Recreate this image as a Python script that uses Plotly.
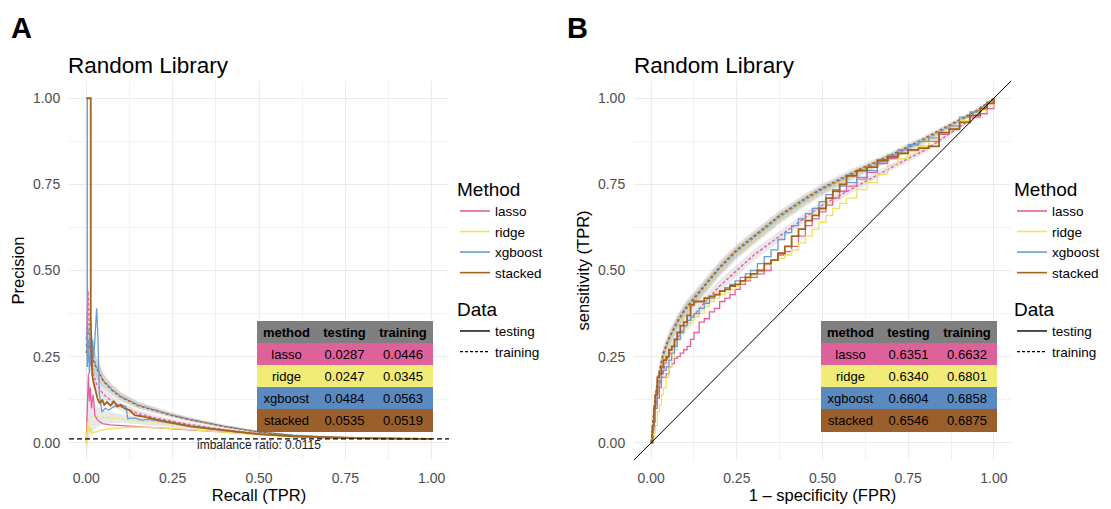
import plotly.graph_objects as go

# ---------------- data ----------------
methods = ["lasso", "ridge", "xgboost", "stacked"]
line_colors = {"lasso": "#E7609D", "ridge": "#F0E45E", "xgboost": "#6B9BD2", "stacked": "#A6611A"}
table_fills = ["#DF6199", "#F1EB77", "#5B8AC0", "#9A5F2A"]
table_header = ["method", "testing", "training"]

pr_auc_testing = [0.0287, 0.0247, 0.0484, 0.0535]
pr_auc_training = [0.0446, 0.0345, 0.0563, 0.0519]
roc_auc_testing = [0.6351, 0.6340, 0.6604, 0.6546]
roc_auc_training = [0.6632, 0.6801, 0.6858, 0.6875]
imbalance_ratio = 0.0115

# PR testing curves (recall, precision)
pr_test_recall = {
    "lasso": [0.0, 0.003, 0.006, 0.009, 0.012, 0.015, 0.02, 0.025, 0.03, 0.04, 0.05, 0.07, 0.1, 0.13, 0.16, 0.2, 0.25, 0.3, 0.35, 0.4, 0.5, 0.6, 0.7, 0.8, 0.9, 1.0],
    "ridge": [0.0, 0.004, 0.008, 0.012, 0.016, 0.02, 0.03, 0.04, 0.06, 0.08, 0.1, 0.13, 0.16, 0.2, 0.25, 0.3, 0.35, 0.4, 0.5, 0.6, 0.7, 0.8, 0.9, 1.0],
    "xgboost": [0.0, 0.003, 0.003, 0.006, 0.009, 0.012, 0.015, 0.018, 0.022, 0.026, 0.03, 0.034, 0.038, 0.045, 0.055, 0.065, 0.08, 0.1, 0.115, 0.12, 0.14, 0.16, 0.18, 0.2, 0.23, 0.26, 0.3, 0.35, 0.4, 0.5, 0.6, 0.7, 0.8, 0.9, 1.0],
    "stacked": [0.0, 0.013, 0.013, 0.015, 0.017, 0.02, 0.024, 0.028, 0.032, 0.036, 0.04, 0.046, 0.052, 0.06, 0.07, 0.08, 0.09, 0.1, 0.11, 0.125, 0.14, 0.16, 0.18, 0.2, 0.23, 0.26, 0.3, 0.35, 0.4, 0.45, 0.5, 0.6, 0.7, 0.8, 0.9, 1.0],
}
pr_test_precision = {
    "lasso": [0.0, 0.15, 0.2, 0.12, 0.16, 0.1, 0.14, 0.08, 0.07, 0.06, 0.055, 0.052, 0.05, 0.048, 0.046, 0.044, 0.041, 0.037, 0.033, 0.03, 0.023, 0.018, 0.014, 0.013, 0.012, 0.0115],
    "ridge": [0.0, 0.06, 0.03, 0.045, 0.025, 0.03, 0.032, 0.036, 0.04, 0.042, 0.044, 0.045, 0.045, 0.044, 0.042, 0.038, 0.034, 0.03, 0.023, 0.018, 0.014, 0.013, 0.012, 0.0115],
    "xgboost": [1.0, 1.0, 0.22, 0.3, 0.2, 0.26, 0.22, 0.3, 0.25, 0.33, 0.39, 0.3, 0.14, 0.09, 0.1, 0.095, 0.105, 0.11, 0.105, 0.07, 0.072, 0.066, 0.068, 0.064, 0.058, 0.054, 0.047, 0.041, 0.035, 0.025, 0.019, 0.015, 0.013, 0.012, 0.0115],
    "stacked": [1.0, 1.0, 0.36, 0.3, 0.2, 0.18, 0.16, 0.14, 0.13, 0.12, 0.115, 0.125, 0.11, 0.118, 0.108, 0.12, 0.105, 0.11, 0.1, 0.095, 0.08, 0.077, 0.072, 0.068, 0.062, 0.056, 0.048, 0.042, 0.036, 0.031, 0.025, 0.019, 0.015, 0.013, 0.012, 0.0115],
}

# PR training curves (mean over resamples) with band half-width
pr_train_recall = [0.0, 0.005, 0.01, 0.02, 0.03, 0.05, 0.075, 0.1, 0.15, 0.2, 0.25, 0.3, 0.4, 0.5, 0.6, 0.7, 0.8, 0.9, 1.0]
pr_train_precision = {
    "lasso": [0.30, 0.44, 0.30, 0.20, 0.17, 0.14, 0.12, 0.105, 0.085, 0.072, 0.062, 0.053, 0.038, 0.026, 0.019, 0.015, 0.013, 0.012, 0.0115],
    "ridge": [0.02, 0.06, 0.07, 0.075, 0.075, 0.074, 0.072, 0.07, 0.064, 0.058, 0.052, 0.046, 0.035, 0.025, 0.019, 0.015, 0.013, 0.012, 0.0115],
    "xgboost": [0.28, 0.33, 0.30, 0.25, 0.22, 0.18, 0.155, 0.135, 0.11, 0.095, 0.08, 0.068, 0.048, 0.032, 0.022, 0.017, 0.014, 0.012, 0.0115],
    "stacked": [0.26, 0.30, 0.28, 0.24, 0.215, 0.178, 0.152, 0.133, 0.108, 0.093, 0.079, 0.067, 0.047, 0.031, 0.021, 0.016, 0.014, 0.012, 0.0115],
}
pr_train_band = [0.06, 0.06, 0.05, 0.04, 0.03, 0.02, 0.015, 0.012, 0.01, 0.008, 0.007, 0.006, 0.004, 0.003, 0.002, 0.001, 0.001, 0.0005, 0.0]

# ROC testing curves (stepwise), shared fpr grid
roc_test_fpr = [0.0, 0.004, 0.008, 0.012, 0.018, 0.024, 0.03, 0.036, 0.044, 0.052, 0.06, 0.068, 0.076, 0.085,
                0.095, 0.105, 0.115, 0.125, 0.14, 0.155, 0.17, 0.185, 0.2, 0.215, 0.23, 0.245, 0.26, 0.275,
                0.29, 0.31, 0.33, 0.35, 0.37, 0.39, 0.41, 0.43, 0.45, 0.47, 0.49, 0.51, 0.53, 0.55, 0.57,
                0.6, 0.63, 0.66, 0.69, 0.72, 0.75, 0.78, 0.81, 0.84, 0.87, 0.9, 0.93, 0.96, 0.98, 1.0]
roc_test_tpr = {
    "lasso": [0.0, 0.03, 0.06, 0.1, 0.13, 0.16, 0.19, 0.19, 0.2, 0.22, 0.23, 0.245, 0.25, 0.26,
              0.27, 0.28, 0.3, 0.32, 0.35, 0.36, 0.38, 0.39, 0.41, 0.42, 0.43, 0.445, 0.46, 0.47,
              0.48, 0.49, 0.5, 0.53, 0.545, 0.555, 0.57, 0.6, 0.63, 0.65, 0.67, 0.69, 0.71, 0.73, 0.745,
              0.765, 0.785, 0.81, 0.825, 0.84, 0.85, 0.86, 0.875, 0.895, 0.915, 0.93, 0.945, 0.955, 0.97, 1.0],
    "ridge": [0.0, 0.01, 0.03, 0.05, 0.09, 0.11, 0.14, 0.16, 0.19, 0.22, 0.25, 0.27, 0.3, 0.32,
              0.335, 0.345, 0.355, 0.365, 0.375, 0.395, 0.41, 0.42, 0.43, 0.435, 0.445, 0.455, 0.466, 0.475,
              0.485, 0.5, 0.515, 0.53, 0.535, 0.545, 0.56, 0.58, 0.6, 0.62, 0.64, 0.66, 0.68, 0.695, 0.71,
              0.735, 0.755, 0.78, 0.805, 0.825, 0.845, 0.86, 0.88, 0.9, 0.915, 0.935, 0.95, 0.965, 0.98, 1.0],
    "xgboost": [0.0, 0.04, 0.08, 0.11, 0.16, 0.18, 0.2, 0.21, 0.22, 0.24, 0.26, 0.28, 0.3, 0.32,
                0.34, 0.355, 0.365, 0.375, 0.39, 0.405, 0.42, 0.43, 0.44, 0.45, 0.46, 0.47, 0.48, 0.49,
                0.5, 0.52, 0.54, 0.56, 0.59, 0.61, 0.63, 0.65, 0.665, 0.68, 0.7, 0.72, 0.735, 0.745, 0.755,
                0.77, 0.79, 0.815, 0.835, 0.85, 0.865, 0.875, 0.885, 0.9, 0.92, 0.945, 0.96, 0.975, 0.99, 1.0],
    "stacked": [0.0, 0.05, 0.1, 0.14, 0.19, 0.2, 0.22, 0.24, 0.25, 0.27, 0.28, 0.3, 0.32, 0.34,
                0.35, 0.37, 0.4, 0.41, 0.41, 0.42, 0.425, 0.43, 0.44, 0.445, 0.455, 0.46, 0.47, 0.48,
                0.49, 0.5, 0.52, 0.53, 0.55, 0.57, 0.6, 0.62, 0.645, 0.66, 0.68, 0.71, 0.73, 0.75, 0.775,
                0.79, 0.8, 0.82, 0.83, 0.84, 0.85, 0.855, 0.86, 0.9, 0.91, 0.93, 0.95, 0.97, 0.985, 1.0],
}

# ROC training curves (mean) with band half-width
roc_train_fpr = [0.0, 0.01, 0.02, 0.035, 0.05, 0.075, 0.1, 0.125, 0.15, 0.2, 0.25, 0.3, 0.375, 0.45, 0.5, 0.6, 0.7, 0.75, 0.8, 0.875, 0.95, 1.0]
roc_train_tpr = {
    "lasso": [0.0, 0.09, 0.15, 0.21, 0.25, 0.30, 0.34, 0.37, 0.40, 0.455, 0.50, 0.545, 0.60, 0.655, 0.69, 0.745, 0.80, 0.825, 0.85, 0.90, 0.95, 1.0],
    "ridge": [0.0, 0.10, 0.17, 0.24, 0.285, 0.34, 0.38, 0.41, 0.44, 0.50, 0.55, 0.59, 0.65, 0.70, 0.73, 0.78, 0.83, 0.85, 0.875, 0.918, 0.96, 1.0],
    "xgboost": [0.0, 0.11, 0.18, 0.25, 0.295, 0.345, 0.385, 0.415, 0.445, 0.505, 0.555, 0.595, 0.655, 0.705, 0.735, 0.785, 0.83, 0.855, 0.88, 0.92, 0.962, 1.0],
    "stacked": [0.0, 0.12, 0.19, 0.26, 0.30, 0.35, 0.39, 0.42, 0.45, 0.51, 0.56, 0.60, 0.66, 0.71, 0.74, 0.79, 0.835, 0.86, 0.885, 0.925, 0.965, 1.0],
}
roc_train_band = [0.0, 0.02, 0.02, 0.02, 0.02, 0.02, 0.02, 0.02, 0.018, 0.018, 0.017, 0.016, 0.015, 0.014, 0.013, 0.012, 0.01, 0.01, 0.008, 0.006, 0.004, 0.0]

# ---------------- figure ----------------
W, H = 1111, 509
FONT = "Liberation Sans, Arial, sans-serif"
AX_RANGE = [-0.05, 1.05]
TICKS = [0, 0.25, 0.5, 0.75, 1.0]
RIBBON = "rgba(150,150,150,0.22)"

fig = go.Figure()


def add_panel(xa, ya, train_x, train_y, band, test_x, test_y, shape):
    for m in methods:
        lo = [v - b for v, b in zip(train_y[m], band)]
        hi = [v + b for v, b in zip(train_y[m], band)]
        fig.add_trace(go.Scatter(x=train_x + train_x[::-1], y=hi + lo[::-1], fill="toself",
                                 fillcolor=RIBBON, line=dict(width=0), mode="lines",
                                 hoverinfo="skip", showlegend=False, xaxis=xa, yaxis=ya))
    for m in methods:
        fig.add_trace(go.Scatter(x=train_x, y=train_y[m], mode="lines",
                                 line=dict(color=line_colors[m], width=1.4, dash="3px,2px"),
                                 showlegend=False, xaxis=xa, yaxis=ya))
    for m in methods:
        xs = test_x[m] if isinstance(test_x, dict) else test_x
        fig.add_trace(go.Scatter(x=xs, y=test_y[m], mode="lines",
                                 line=dict(color=line_colors[m], width=1.8 if m == "stacked" else 1.3,
                                           shape=shape),
                                 showlegend=False, xaxis=xa, yaxis=ya))


add_panel("x", "y", pr_train_recall, pr_train_precision, pr_train_band,
          pr_test_recall, pr_test_precision, "linear")
add_panel("x2", "y2", roc_train_fpr, roc_train_tpr, roc_train_band,
          roc_test_fpr, roc_test_tpr, "hv")

# chance line for ROC (y = x across the whole panel)
fig.add_trace(go.Scatter(x=AX_RANGE, y=AX_RANGE, mode="lines", line=dict(color="black", width=1),
                         showlegend=False, xaxis="x2", yaxis="y2", hoverinfo="skip"))

# legends (key entries)
for leg in ["legend", "legend3"]:
    for m in methods:
        fig.add_trace(go.Scatter(x=[None], y=[None], mode="lines", name=m,
                                 line=dict(color=line_colors[m], width=1.6), legend=leg))
for leg in ["legend2", "legend4"]:
    fig.add_trace(go.Scatter(x=[None], y=[None], mode="lines", name="testing",
                             line=dict(color="black", width=1.4), legend=leg))
    fig.add_trace(go.Scatter(x=[None], y=[None], mode="lines", name="training",
                             line=dict(color="black", width=1.2, dash="3px,2px"), legend=leg))

# tables of AUC values, drawn as boxed annotations
annotations = []


def add_table(x0, y0, col_w, row_h, testing, training):
    rows = [(["<b>%s</b>" % h for h in table_header], "#7F7F7F")]
    for m, te, tr, fc in zip(methods, testing, training, table_fills):
        rows.append(([m, "%.4f" % te, "%.4f" % tr], fc))
    y = y0
    for texts, fc in rows:
        x = x0
        for t, cw in zip(texts, col_w):
            annotations.append(dict(
                text=t, x=(x + cw / 2) / W, y=1 - (y + row_h / 2) / H, xref="paper", yref="paper",
                xanchor="center", yanchor="middle", showarrow=False, width=cw + 1, height=row_h + 1,
                bgcolor=fc, borderpad=0, borderwidth=0, align="center", valign="middle",
                font=dict(family=FONT, size=13, color="black")))
            x += cw
        y += row_h


add_table(257, 321, [58, 58, 59], 22, pr_auc_testing, pr_auc_training)
add_table(821, 321, [58, 58, 59], 22, roc_auc_testing, roc_auc_training)

ydom = [1 - 460 / H, 1 - 81 / H]
axis_common = dict(range=AX_RANGE, tickvals=TICKS, tickformat=".2f", showgrid=True,
                   gridcolor="#EBEBEB", gridwidth=1.1, zeroline=False, showline=False,
                   ticks="outside", ticklen=5, tickcolor="rgba(0,0,0,0)",
                   tickfont=dict(family=FONT, size=14, color="#4D4D4D"),
                   minor=dict(tickvals=[0.125, 0.375, 0.625, 0.875],
                              showgrid=True, gridcolor="#F2F2F2", gridwidth=0.7),
                   automargin=False)

annotations += [
    dict(text="<b>A</b>", x=9 / W, y=1 - 10 / H, xref="paper", yref="paper", xanchor="left", yanchor="top",
         showarrow=False, font=dict(size=29, family=FONT)),
    dict(text="<b>B</b>", x=565 / W, y=1 - 10 / H, xref="paper", yref="paper", xanchor="left", yanchor="top",
         showarrow=False, font=dict(size=29, family=FONT)),
    dict(text="Random Library", x=66 / W, y=1 - 65 / H, xref="paper", yref="paper", xanchor="left",
         yanchor="middle", showarrow=False, font=dict(size=22.5, family=FONT)),
    dict(text="Random Library", x=632 / W, y=1 - 65 / H, xref="paper", yref="paper", xanchor="left",
         yanchor="middle", showarrow=False, font=dict(size=22.5, family=FONT)),
    dict(text="imbalance ratio: " + str(imbalance_ratio), x=0.5, y=imbalance_ratio, xref="x", yref="y",
         xanchor="center", yanchor="top", yshift=3, showarrow=False,
         font=dict(size=12, family=FONT, color="#1A1A1A")),
]

fig.update_layout(
    width=W, height=H, margin=dict(l=0, r=0, t=0, b=0),
    paper_bgcolor="white", plot_bgcolor="white",
    font=dict(family=FONT, color="black"),
    xaxis=dict(axis_common, domain=[69 / W, 449 / W], anchor="y",
               title=dict(text="Recall (TPR)", font=dict(size=16.5), standoff=4)),
    yaxis=dict(axis_common, domain=ydom, anchor="x",
               title=dict(text="Precision", font=dict(size=16.5), standoff=4)),
    xaxis2=dict(axis_common, domain=[634 / W, 1011 / W], anchor="y2",
                title=dict(text="1 \u2013 specificity (FPR)", font=dict(size=16.5), standoff=4)),
    yaxis2=dict(axis_common, domain=ydom, anchor="x2",
                title=dict(text="sensitivity (TPR)", font=dict(size=16.5), standoff=4)),
    shapes=[dict(type="line", xref="x domain", yref="y", x0=0, x1=1, y0=imbalance_ratio, y1=imbalance_ratio,
                 line=dict(color="black", width=1.2, dash="5px,3px"))],
    annotations=annotations,
)

leg_common = dict(xanchor="left", yanchor="top", bgcolor="rgba(0,0,0,0)", itemwidth=30,
                  font=dict(family=FONT, size=13.5), tracegroupgap=0)
fig.update_layout(
    legend=dict(leg_common, x=455 / W, y=1 - 171 / H, title=dict(text="Method", font=dict(size=19))),
    legend2=dict(leg_common, x=455 / W, y=1 - 291 / H, title=dict(text="Data", font=dict(size=19))),
    legend3=dict(leg_common, x=1012 / W, y=1 - 171 / H, title=dict(text="Method", font=dict(size=19))),
    legend4=dict(leg_common, x=1012 / W, y=1 - 291 / H, title=dict(text="Data", font=dict(size=19))),
)

fig.write_html("out.html")
